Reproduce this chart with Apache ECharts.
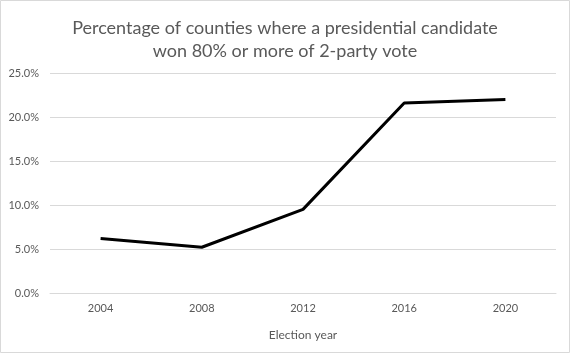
<!DOCTYPE html>
<html>
<head>
<meta charset="utf-8">
<script src="https://cdn.jsdelivr.net/npm/echarts@6/dist/echarts.min.js"></script>
<style>html,body{margin:0;padding:0;background:#fff}#c{width:570px;height:353px}</style>
</head>
<body>
<div id="c"></div>
<script>
const categories = ['2004', '2008', '2012', '2016', '2020'];
const values = [6.2, 5.2, 9.5, 21.6, 22.0];
const chartTitle = 'Percentage of counties where a presidential candidate\nwon 80% or more of 2-party vote';
const xAxisName = 'Election year';

const chart = echarts.init(document.getElementById('c'));
chart.setOption({
  animation: false,
  title: {
    text: chartTitle,
    left: 'center',
    top: 12,
    textStyle: { fontFamily: 'Lato', fontSize: 18, fontWeight: 'normal', color: '#595959', lineHeight: 23 }
  },
  graphic: [{
    type: 'rect', shape: { x: 0.5, y: 0.5, width: 569, height: 352 },
    style: { fill: 'none', stroke: '#d9d9d9', lineWidth: 1 }, silent: true
  }],
  grid: { left: 50, right: 14, top: 73, bottom: 60 },
  xAxis: {
    type: 'category',
    data: categories,
    boundaryGap: true,
    name: xAxisName,
    nameLocation: 'middle',
    nameGap: 36,
    nameTextStyle: { fontFamily: 'Lato', fontSize: 12, color: '#595959' },
    axisLine: { show: true, lineStyle: { color: '#d9d9d9' } },
    axisTick: { show: false },
    axisLabel: { margin: 10, fontFamily: 'Lato', fontSize: 11, color: '#595959' }
  },
  yAxis: {
    type: 'value',
    min: 0, max: 25, interval: 5,
    axisLine: { show: false },
    axisTick: { show: false },
    splitLine: { lineStyle: { color: '#d9d9d9' } },
    axisLabel: { margin: 11, fontFamily: 'Lato', fontSize: 11, color: '#595959', formatter: v => v.toFixed(1) + '%' }
  },
  series: [{
    type: 'line',
    data: values,
    symbol: 'none',
    lineStyle: { color: '#000', width: 3 }
  }]
});
</script>
</body>
</html>
